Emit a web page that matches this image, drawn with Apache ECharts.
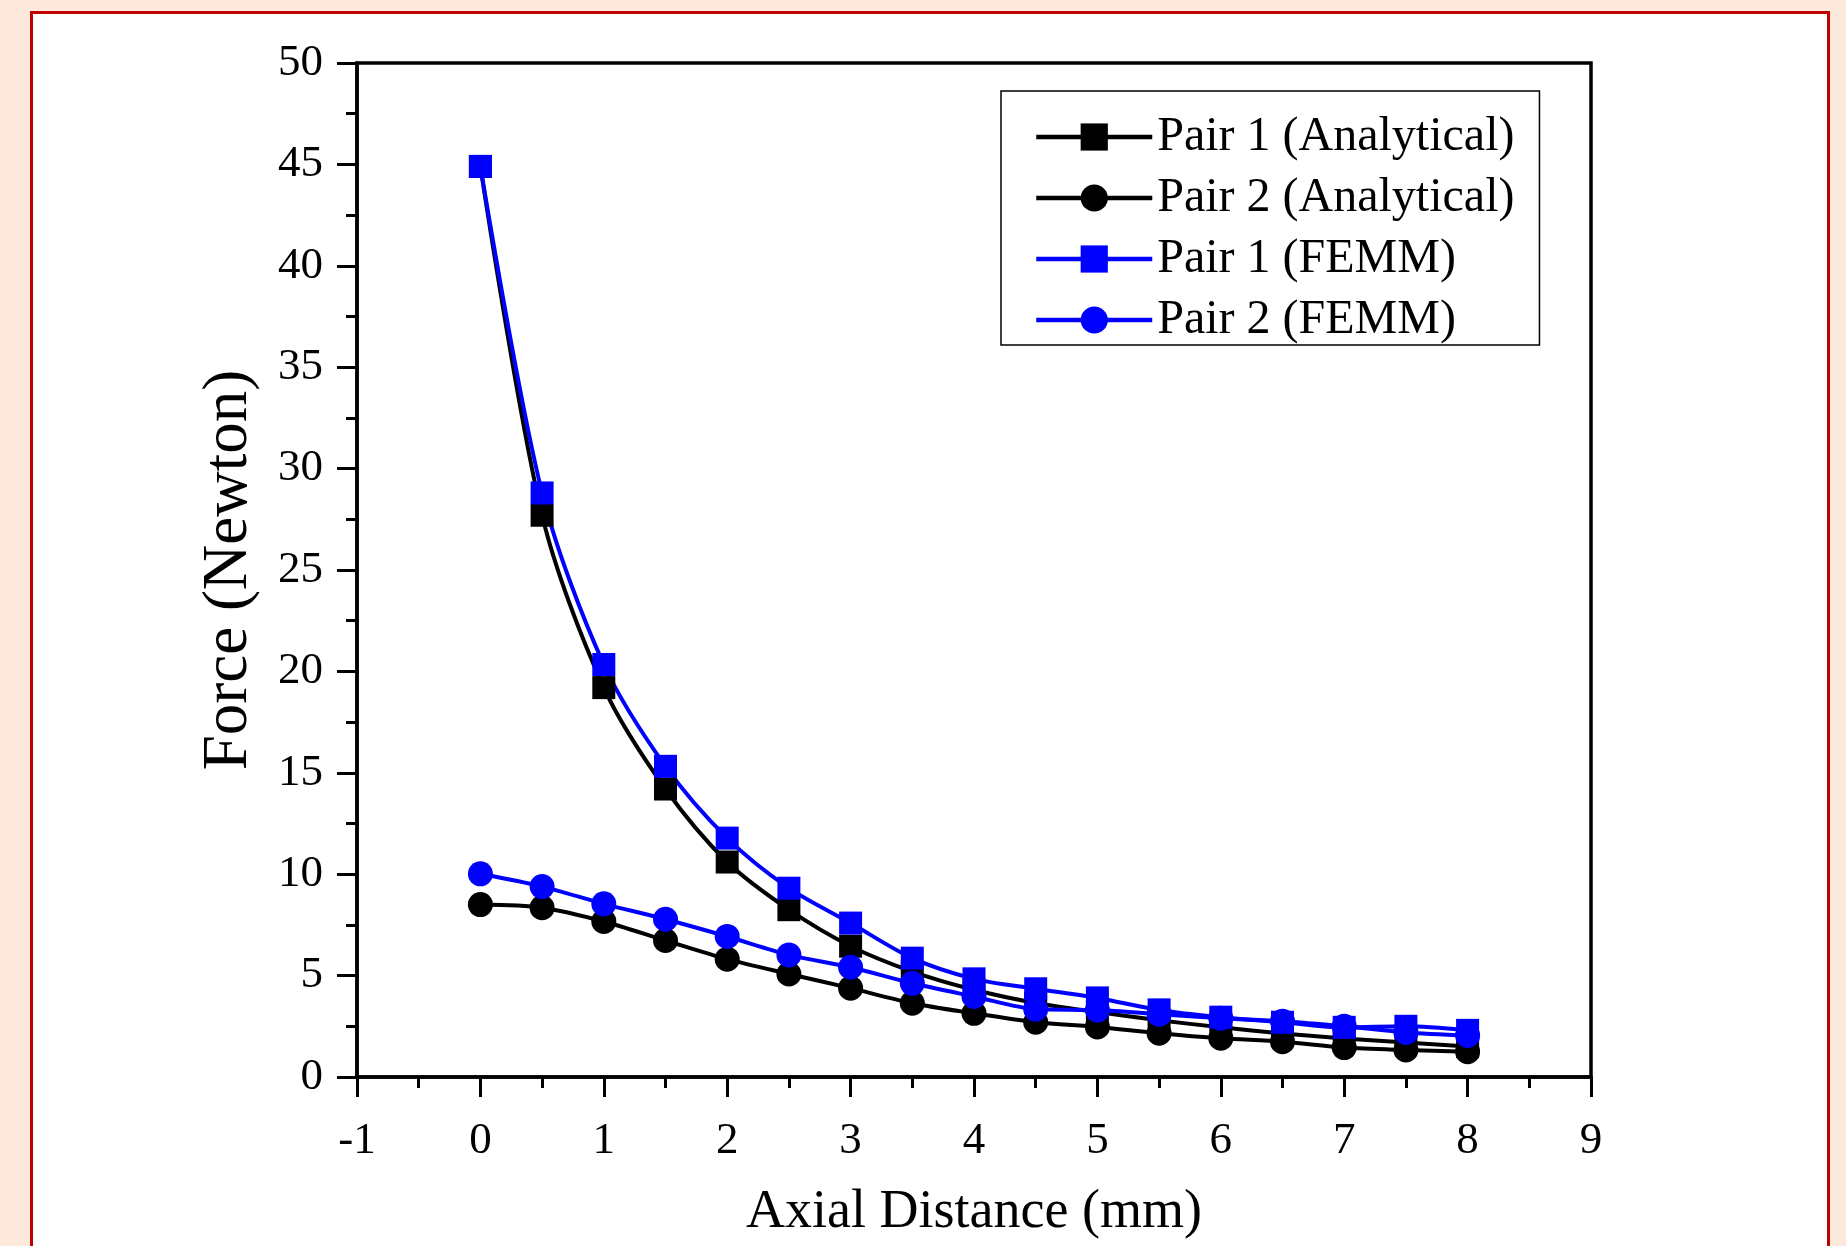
<!DOCTYPE html>
<html>
<head>
<meta charset="utf-8">
<script src="https://cdn.jsdelivr.net/npm/echarts@6/dist/echarts.min.js"></script>
<style>
  html, body { margin: 0; padding: 0; background: #FCE9DB; overflow: hidden; }
  #frame { position: absolute; left: 30px; top: 11px; width: 1800px; height: 1300px;
           border: 3px solid #C00000; background: #ffffff; box-sizing: border-box; }
  #chart { position: absolute; left: 0; top: 0; width: 1846px; height: 1246px; }
</style>
</head>
<body>
<div id="frame"></div>
<div id="chart"></div>
<script>
// Axial distance (mm)
const distances = [0, 0.5, 1, 1.5, 2, 2.5, 3, 3.5, 4, 4.5, 5, 5.5, 6, 6.5, 7, 7.5, 8];
// Force (Newton)
const pair1Analytical = [44.9, 27.7, 19.2, 14.2, 10.6, 8.25, 6.45, 5.2, 4.3, 3.65, 3.2, 2.8, 2.45, 2.15, 1.9, 1.7, 1.5];
const pair2Analytical = [8.5, 8.35, 7.67, 6.73, 5.81, 5.08, 4.38, 3.64, 3.14, 2.7, 2.47, 2.16, 1.91, 1.74, 1.45, 1.33, 1.25];
const pair1FEMM = [44.9, 28.8, 20.34, 15.32, 11.78, 9.31, 7.59, 5.86, 4.84, 4.35, 3.9, 3.31, 2.95, 2.7, 2.45, 2.5, 2.3];
const pair2FEMM = [10.02, 9.39, 8.54, 7.78, 6.93, 6.02, 5.41, 4.62, 3.97, 3.35, 3.3, 3.1, 2.9, 2.75, 2.5, 2.2, 2.05];
const seriesNames = ['Pair 1 (Analytical)', 'Pair 2 (Analytical)', 'Pair 1 (FEMM)', 'Pair 2 (FEMM)'];
const xAxisTitle = 'Axial Distance (mm)';
const yAxisTitle = 'Force (Newton)';

const FONT = "'Liberation Serif', 'Times New Roman', serif";
const pairs = ys => distances.map((d, i) => [d, ys[i]]);

function mkSeries(name, ys, color, symbol) {
  return {
    name: name, type: 'line', data: pairs(ys),
    smooth: 0.3, symbol: symbol, symbolSize: symbol === 'circle' ? 25 : 23,
    lineStyle: { color: color, width: 4 },
    itemStyle: { color: color },
    emphasis: { disabled: true }
  };
}

const chart = echarts.init(document.getElementById('chart'), null, { renderer: 'canvas' });
const axisCommon = {
  type: 'value',
  axisLine: { show: true, onZero: false, lineStyle: { color: '#000', width: 3.5 } },
  axisTick: { show: true, inside: false, length: 20, lineStyle: { color: '#000', width: 3 } },
  minorTick: { show: true, splitNumber: 2, length: 11, lineStyle: { color: '#000', width: 3 } },
  splitLine: { show: false },
  axisLabel: { color: '#000', fontFamily: FONT, fontSize: 45 },
  nameLocation: 'middle',
  nameTextStyle: { color: '#000', fontFamily: FONT, fontSize: 54 }
};

chart.setOption({
  backgroundColor: 'transparent',
  animation: false,
  grid: { left: 357, right: 255, top: 63, bottom: 169, show: true, borderColor: '#000', borderWidth: 3.5, backgroundColor: 'transparent' },
  legend: {
    orient: 'vertical', left: 1001, top: 91,
    data: seriesNames,
    itemWidth: 116, itemHeight: 34, itemGap: 13,
    padding: [22, 25, 1, 33],
    borderColor: '#000', borderWidth: 1.5, backgroundColor: '#fff',
    lineStyle: { width: 4.5 },
    textStyle: { color: '#000', fontFamily: FONT, fontSize: 48 },
    selectedMode: false
  },
  xAxis: Object.assign({}, axisCommon, {
    min: -1, max: 9, interval: 1,
    name: xAxisTitle, nameGap: 109,
    axisLabel: Object.assign({}, axisCommon.axisLabel, { margin: 42 })
  }),
  yAxis: Object.assign({}, axisCommon, {
    min: 0, max: 50, interval: 5,
    name: yAxisTitle, nameGap: 96,
    nameTextStyle: { color: '#000', fontFamily: FONT, fontSize: 63 },
    axisLabel: Object.assign({}, axisCommon.axisLabel, { margin: 34 })
  }),
  series: [
    mkSeries(seriesNames[0], pair1Analytical, '#000000', 'rect'),
    mkSeries(seriesNames[1], pair2Analytical, '#000000', 'circle'),
    mkSeries(seriesNames[2], pair1FEMM, '#0000FF', 'rect'),
    mkSeries(seriesNames[3], pair2FEMM, '#0000FF', 'circle')
  ]
});
</script>
</body>
</html>
